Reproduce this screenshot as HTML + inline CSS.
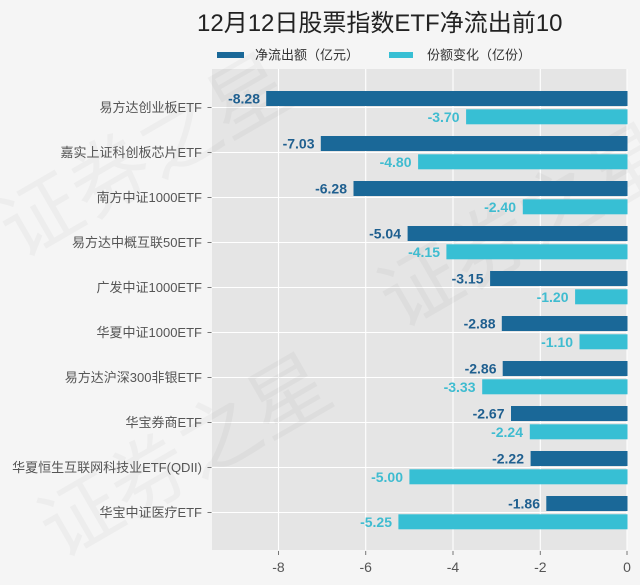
<!DOCTYPE html>
<html>
<head>
<meta charset="utf-8">
<style>
  html,body{margin:0;padding:0;background:#f5f5f5;}
  svg{display:block;}
  text{font-family:"Liberation Sans","Noto Sans CJK SC",sans-serif;}
</style>
</head>
<body>
<svg width="640" height="585" viewBox="0 0 640 585" xmlns="http://www.w3.org/2000/svg">
  <rect x="0" y="0" width="640" height="585" fill="#f5f5f5"/>

  <!-- title -->
  <text x="197" y="31" font-size="24" fill="#222">12月12日股票指数ETF净流出前10</text>

  <!-- legend -->
  <rect x="217" y="52" width="27" height="6" fill="#1a6898"/>
  <text x="255" y="55" font-size="13" fill="#333" dominant-baseline="central">净流出额（亿元）</text>
  <rect x="389" y="52" width="24" height="6" fill="#37bfd4"/>
  <text x="427" y="55" font-size="13" fill="#333" dominant-baseline="central">份额变化（亿份）</text>

  <!-- plot background -->
  <rect x="212" y="69" width="415.5" height="481" fill="#e5e5e5"/>

  <!-- vertical gridlines -->
  <g stroke="#ffffff" stroke-width="1.1">
    <line x1="278.5" y1="69" x2="278.5" y2="550"/>
    <line x1="365.7" y1="69" x2="365.7" y2="550"/>
    <line x1="453" y1="69" x2="453" y2="550"/>
    <line x1="540.3" y1="69" x2="540.3" y2="550"/>
    <line x1="627" y1="69" x2="627" y2="550"/>
  </g>
  <!-- horizontal gridlines -->
  <g stroke="#ffffff" stroke-width="1.1">
    <line x1="212" y1="107.5" x2="627.5" y2="107.5"/>
    <line x1="212" y1="152.5" x2="627.5" y2="152.5"/>
    <line x1="212" y1="197.5" x2="627.5" y2="197.5"/>
    <line x1="212" y1="242.5" x2="627.5" y2="242.5"/>
    <line x1="212" y1="287.5" x2="627.5" y2="287.5"/>
    <line x1="212" y1="332.5" x2="627.5" y2="332.5"/>
    <line x1="212" y1="377.5" x2="627.5" y2="377.5"/>
    <line x1="212" y1="422.5" x2="627.5" y2="422.5"/>
    <line x1="212" y1="467.5" x2="627.5" y2="467.5"/>
    <line x1="212" y1="512.5" x2="627.5" y2="512.5"/>
  </g>

  <!-- watermark (faint) -->
  <g fill="#000" fill-opacity="0.03" font-size="80" font-family="Liberation Sans, Noto Sans CJK SC, sans-serif">
    <text x="20" y="260" transform="rotate(-30 20 260)">证券之星</text>
    <text x="60" y="560" transform="rotate(-30 60 560)">证券之星</text>
    <text x="400" y="330" transform="rotate(-30 400 330)">证券之星</text>
  </g>

  <!-- bars: x(v) = 627.5 + v*43.63 -->
  <g>
    <!-- 1 -->
    <rect x="266.2" y="91" width="361.3" height="15" fill="#1a6898"/>
    <rect x="466.1" y="109.3" width="161.4" height="15" fill="#37bfd4"/>
    <!-- 2 -->
    <rect x="320.8" y="136" width="306.7" height="15" fill="#1a6898"/>
    <rect x="418.1" y="154.3" width="209.4" height="15" fill="#37bfd4"/>
    <!-- 3 -->
    <rect x="353.5" y="181" width="274" height="15" fill="#1a6898"/>
    <rect x="522.8" y="199.3" width="104.7" height="15" fill="#37bfd4"/>
    <!-- 4 -->
    <rect x="407.6" y="226" width="219.9" height="15" fill="#1a6898"/>
    <rect x="446.4" y="244.3" width="181.1" height="15" fill="#37bfd4"/>
    <!-- 5 -->
    <rect x="490.1" y="271" width="137.4" height="15" fill="#1a6898"/>
    <rect x="575.1" y="289.3" width="52.4" height="15" fill="#37bfd4"/>
    <!-- 6 -->
    <rect x="501.8" y="316" width="125.7" height="15" fill="#1a6898"/>
    <rect x="579.5" y="334.3" width="48" height="15" fill="#37bfd4"/>
    <!-- 7 -->
    <rect x="502.7" y="361" width="124.8" height="15" fill="#1a6898"/>
    <rect x="482.2" y="379.3" width="145.3" height="15" fill="#37bfd4"/>
    <!-- 8 -->
    <rect x="511" y="406" width="116.5" height="15" fill="#1a6898"/>
    <rect x="529.8" y="424.3" width="97.7" height="15" fill="#37bfd4"/>
    <!-- 9 -->
    <rect x="530.6" y="451" width="96.9" height="15" fill="#1a6898"/>
    <rect x="409.4" y="469.3" width="218.1" height="15" fill="#37bfd4"/>
    <!-- 10 -->
    <rect x="546.3" y="496" width="81.2" height="15" fill="#1a6898"/>
    <rect x="398.4" y="514.3" width="229.1" height="15" fill="#37bfd4"/>
  </g>

  <!-- value labels -->
  <g font-size="14" font-weight="bold" text-anchor="end" dominant-baseline="central">
    <g fill="#1f5f8f">
      <text x="260" y="98.5">-8.28</text>
      <text x="314.5" y="143.5">-7.03</text>
      <text x="347" y="188.5">-6.28</text>
      <text x="401" y="233.5">-5.04</text>
      <text x="483.5" y="278.5">-3.15</text>
      <text x="495.5" y="323.5">-2.88</text>
      <text x="496.5" y="368.5">-2.86</text>
      <text x="504.5" y="413.5">-2.67</text>
      <text x="524" y="458.5">-2.22</text>
      <text x="540" y="503.5">-1.86</text>
    </g>
    <g fill="#3fbcd0">
      <text x="459.5" y="117">-3.70</text>
      <text x="411.5" y="162">-4.80</text>
      <text x="516" y="207">-2.40</text>
      <text x="440" y="252">-4.15</text>
      <text x="568.5" y="297">-1.20</text>
      <text x="573" y="342">-1.10</text>
      <text x="475.5" y="387">-3.33</text>
      <text x="523" y="432">-2.24</text>
      <text x="403" y="477">-5.00</text>
      <text x="392" y="522">-5.25</text>
    </g>
  </g>

  <!-- y axis ticks -->
  <g stroke="#777" stroke-width="1">
    <line x1="207.5" y1="107.5" x2="211.5" y2="107.5"/>
    <line x1="207.5" y1="152.5" x2="211.5" y2="152.5"/>
    <line x1="207.5" y1="197.5" x2="211.5" y2="197.5"/>
    <line x1="207.5" y1="242.5" x2="211.5" y2="242.5"/>
    <line x1="207.5" y1="287.5" x2="211.5" y2="287.5"/>
    <line x1="207.5" y1="332.5" x2="211.5" y2="332.5"/>
    <line x1="207.5" y1="377.5" x2="211.5" y2="377.5"/>
    <line x1="207.5" y1="422.5" x2="211.5" y2="422.5"/>
    <line x1="207.5" y1="467.5" x2="211.5" y2="467.5"/>
    <line x1="207.5" y1="512.5" x2="211.5" y2="512.5"/>
  </g>
  <!-- category labels -->
  <g font-size="13" fill="#555" text-anchor="end" dominant-baseline="central">
    <text x="202" y="107.5">易方达创业板ETF</text>
    <text x="202" y="152.5">嘉实上证科创板芯片ETF</text>
    <text x="202" y="197.5">南方中证1000ETF</text>
    <text x="202" y="242.5">易方达中概互联50ETF</text>
    <text x="202" y="287.5">广发中证1000ETF</text>
    <text x="202" y="332.5">华夏中证1000ETF</text>
    <text x="202" y="377.5">易方达沪深300非银ETF</text>
    <text x="202" y="422.5">华宝券商ETF</text>
    <text x="202" y="467.5">华夏恒生互联网科技业ETF(QDII)</text>
    <text x="202" y="512.5">华宝中证医疗ETF</text>
  </g>

  <!-- x axis ticks -->
  <g stroke="#777" stroke-width="1">
    <line x1="278.5" y1="551" x2="278.5" y2="555"/>
    <line x1="365.7" y1="551" x2="365.7" y2="555"/>
    <line x1="453" y1="551" x2="453" y2="555"/>
    <line x1="540.3" y1="551" x2="540.3" y2="555"/>
    <line x1="627" y1="551" x2="627" y2="555"/>
  </g>
  <g font-size="14" fill="#555" text-anchor="middle" dominant-baseline="central">
    <text x="278.5" y="567">-8</text>
    <text x="365.7" y="567">-6</text>
    <text x="453" y="567">-4</text>
    <text x="540.3" y="567">-2</text>
    <text x="627" y="567">0</text>
  </g>
</svg>
</body>
</html>
